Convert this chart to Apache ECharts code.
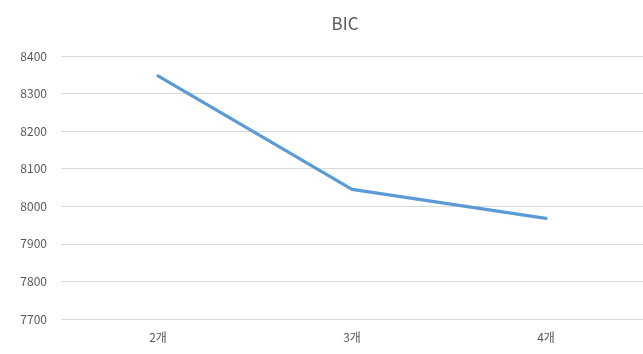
<!DOCTYPE html>
<html>
<head>
<meta charset="utf-8">
<script src="https://cdn.jsdelivr.net/npm/echarts@6/dist/echarts.min.js"></script>
<style>
  html, body { margin: 0; padding: 0; background: #fff; }
  #main { width: 643px; height: 354px; }
</style>
</head>
<body>
<div id="main"></div>
<script>
const categories = ['2개', '3개', '4개'];
const bicValues = [8347, 8045, 7968];
const yTicks = { min: 7700, max: 8400, interval: 100 };

const font = '"Noto Sans CJK KR", "Noto Sans", sans-serif';
const myChart = echarts.init(document.getElementById('main'));

const option = {
  backgroundColor: '#fff',
  title: {
    text: 'BIC',
    left: 340,
    top: 10,
    textAlign: 'center',
    textStyle: { color: '#595959', fontSize: 17, fontWeight: 'normal', fontFamily: font }
  },
  grid: {
    left: 61,
    right: -9,
    top: 56,
    bottom: 35
  },
  xAxis: {
    type: 'category',
    data: categories,
    boundaryGap: true,
    axisLine: { show: false },
    axisTick: { show: false },
    axisLabel: { color: '#595959', fontSize: 12, fontFamily: font, margin: 12 }
  },
  yAxis: {
    type: 'value',
    min: yTicks.min,
    max: yTicks.max,
    interval: yTicks.interval,
    axisLine: { show: false },
    axisTick: { show: false },
    axisLabel: {
      color: '#595959',
      fontSize: 12,
      fontFamily: font,
      margin: 14,
      // 천 단위 쉼표 없이 표시
      formatter: (v) => String(v)
    },
    splitLine: { lineStyle: { color: '#d9d9d9', width: 1 } }
  },
  series: [
    {
      name: 'BIC',
      type: 'line',
      data: bicValues,
      symbol: 'none',
      lineStyle: { color: '#5b9bd5', width: 3.2, cap: 'round', join: 'round' },
      itemStyle: { color: '#5b9bd5' }
    }
  ]
};

myChart.setOption(option);
</script>
</body>
</html>
